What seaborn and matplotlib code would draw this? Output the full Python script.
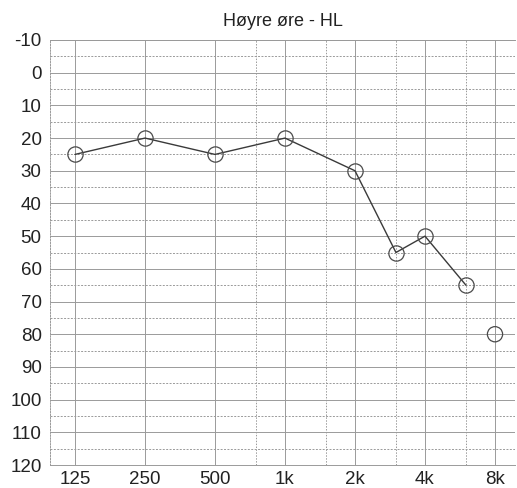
import numpy as np
import pandas as pd
import matplotlib
matplotlib.use("Agg")
import matplotlib.pyplot as plt
import seaborn as sns

# Audiogram data for the right ear (air conduction, dB HL)
freqs = [125, 250, 500, 1000, 2000, 3000, 4000, 6000]
levels = [25, 20, 25, 20, 30, 55, 50, 65]
# Separate, unconnected measurement at 8 kHz
freq_single = [8000]
level_single = [80]

octave_freqs = [125, 250, 500, 1000, 2000, 4000, 8000]
octave_labels = ["125", "250", "500", "1k", "2k", "4k", "8k"]
mid_freqs = [750, 1500, 3000, 6000]
db_ticks = list(range(-10, 121, 10))

sns.set_theme(style="white")
plt.rcParams["font.family"] = ["Liberation Sans", "DejaVu Sans"]

fig = plt.figure(figsize=(5.17, 4.88), dpi=100)
ax = fig.add_axes([50 / 517, 1 - 465 / 488, 465 / 517, 425 / 488])

df = pd.DataFrame({"freq": freqs, "level": levels})
df_single = pd.DataFrame({"freq": freq_single, "level": level_single})

ax.set_xscale("log", base=2)
ax.set_xlim(125 * 2 ** (-25 / 70), 8000 * 2 ** (20 / 70))
ax.set_ylim(120, -10)

# Grid: solid lines at octaves and every 10 dB, dotted/dashed in between
grid_col = "#9a9a9a"
for f in octave_freqs:
    ax.axvline(f, color=grid_col, lw=0.7, zorder=0)
for f in mid_freqs:
    ax.axvline(f, color=grid_col, lw=0.7, ls=(0, (1.5, 1.5)), zorder=0)
for d in db_ticks:
    ax.axhline(d, color=grid_col, lw=0.7, zorder=0)
for d in range(-5, 120, 10):
    ax.axhline(d, color=grid_col, lw=0.7, ls=(0, (2, 1.5)), zorder=0)

sns.lineplot(data=df, x="freq", y="level", ax=ax, color="#3a3a3a", lw=1.0,
             marker="o", markersize=11, markerfacecolor="none",
             markeredgecolor="#4a4a4a", markeredgewidth=0.9, zorder=3)
sns.scatterplot(data=df_single, x="freq", y="level", ax=ax, s=120,
                facecolor="none", edgecolor="#4a4a4a", linewidth=0.9, zorder=3)

ax.set_xticks(octave_freqs)
ax.set_xticklabels(octave_labels)
ax.set_xticks([], minor=True)
ax.set_yticks(db_ticks)
ax.set_yticklabels([str(d) for d in db_ticks])
ax.tick_params(axis="both", length=0, labelsize=13.5, colors="#222222")
ax.tick_params(axis="x", pad=4)
ax.tick_params(axis="y", pad=6)
ax.set_xlabel("")
ax.set_ylabel("")

for side, sp in ax.spines.items():
    sp.set_color(grid_col)
    sp.set_linewidth(0.7)
ax.spines["left"].set_linestyle((0, (1.5, 1.5)))
ax.spines["right"].set_visible(False)

ax.set_title("Høyre øre - HL", fontsize=13, color="#222222", pad=10)

fig.savefig("out.png", dpi=100, facecolor="white")
